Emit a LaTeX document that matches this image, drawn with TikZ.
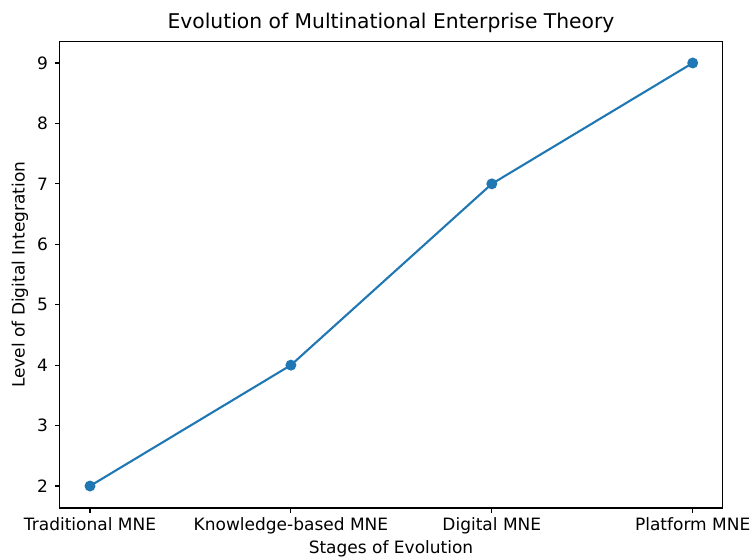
\documentclass[tikz,border=0pt]{standalone}
\usepackage{fontspec}
\setmainfont{DejaVu Sans}
\begin{document}
\begin{tikzpicture}[
    x=1pt, y=-1pt,
    % 坐标轴边框样式
    frame/.style={line width=1.1pt, line cap=rect},
    % 刻度线样式
    tick/.style={line width=1.1pt},
    % 数据折线样式
    series/.style={line width=2.1pt, color=mplblue},
    % 数据点样式
    dot/.style={circle, fill=mplblue, inner sep=0pt, minimum size=11pt},
    % 字体
    ticklabel/.style={font=\fontsize{17}{20}\selectfont, text=black},
    axislabel/.style={font=\fontsize{17}{20}\selectfont},
    titlelabel/.style={font=\fontsize{20.3}{24}\selectfont}
]
    \definecolor{mplblue}{HTML}{1F77B4}
    \useasboundingbox (0,0) rectangle (750,558);

    % 1. 定义坐标轴范围
    \def\axL{59.5}
    \def\axR{722.5}
    \def\axT{41.5}
    \def\axB{508}
    \def\yTwo{486}       % y=2 的位置
    \def\yStep{60.43}    % 每单位高度
    \def\xOne{90}        % 第一个阶段的位置
    \def\xStep{200.9}    % 阶段间距

    % 2. 绘制坐标轴边框
    \draw[frame] (\axL,\axT) rectangle (\axR,\axB);

    % 3. 纵轴刻度与标签
    \foreach \v in {2,...,9} {
        \draw[tick] (\axL,{\yTwo-(\v-2)*\yStep}) -- ++(-4.9,0);
        \node[ticklabel, anchor=east] (ytick\v) at (\axL-8,{\yTwo-(\v-2)*\yStep}) {\v};
    }

    % 4. 横轴刻度与标签
    \foreach \i/\name in {0/Traditional MNE, 1/Knowledge-based MNE, 2/Digital MNE, 3/Platform MNE} {
        \draw[tick] ({\xOne+\i*\xStep},\axB) -- ++(0,4.9);
        \node[ticklabel, anchor=north] (xtick\i) at ({\xOne+\i*\xStep},\axB+6) {\name};
    }

    % 5. 数据点
    \node[dot] (p1) at (\xOne,{\yTwo-(2-2)*\yStep}) {};
    \node[dot] (p2) at ({\xOne+\xStep},{\yTwo-(4-2)*\yStep}) {};
    \node[dot] (p3) at ({\xOne+2*\xStep},{\yTwo-(7-2)*\yStep}) {};
    \node[dot] (p4) at ({\xOne+3*\xStep},{\yTwo-(9-2)*\yStep}) {};

    % 6. 连接折线
    \draw[series] (p1.center) -- (p2.center) -- (p3.center) -- (p4.center);

    % 7. 标题与坐标轴名称
    \node[titlelabel] (title) at ({(\axL+\axR)/2},23) {Evolution of Multinational Enterprise Theory};
    \node[axislabel] (xlabel) at ({(\axL+\axR)/2},549) {Stages of Evolution};
    \node[axislabel, rotate=90] (ylabel) at (20,{(\axT+\axB)/2}) {Level of Digital Integration};

\end{tikzpicture}
\end{document}
